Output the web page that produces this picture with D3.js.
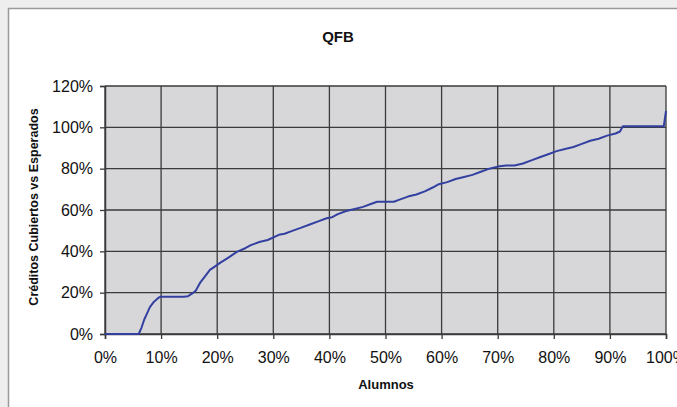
<!DOCTYPE html>
<html>
<head>
<meta charset="utf-8">
<script src="https://cdn.jsdelivr.net/npm/d3@7"></script>
<style>
  html, body { margin: 0; padding: 0; background: #eeeeee; }
  svg { display: block; }
  text { font-family: Arial, "Liberation Sans", sans-serif; fill: #111; }
</style>
</head>
<body>
<svg id="chart" width="677" height="407"></svg>
<script>
// ---- data ----
const title = "QFB";
const xTitle = "Alumnos";
const yTitle = "Créditos Cubiertos vs Esperados";
const xTicks = [0, 0.1, 0.2, 0.3, 0.4, 0.5, 0.6, 0.7, 0.8, 0.9, 1.0];
const yTicks = [0, 0.2, 0.4, 0.6, 0.8, 1.0, 1.2];
// fraction of students (x) vs fraction of expected credits covered (y)
const studentPct = [0, 6.0, 6.5, 7.0, 7.5, 8.0, 8.7, 9.3, 9.8, 12, 14, 14.8, 15.5, 16.2, 17.0, 18.0, 18.7, 19.5, 20.5, 22.0, 23.5, 25.0, 26.0, 27.5, 29.0, 31.0, 32.0, 33.5, 35.0, 36.5, 38.0, 39.5, 40.5, 41.5, 43.0, 44.5, 46.0, 47.5, 48.5, 50.0, 51.5, 52.5, 54.0, 55.5, 57.0, 58.5, 59.5, 61.0, 62.5, 64.0, 65.5, 67.0, 68.5, 70.0, 71.5, 73.0, 74.5, 76.0, 77.5, 79.0, 80.5, 82.0, 83.5, 85.0, 86.5, 88.0, 89.5, 91.0, 91.8, 92.3, 93.0, 99.6, 100];
const creditPct  = [0, 0,   3,   7,   10,  13,  15.5, 17,  18,   18, 18, 18.3, 19.5, 21,   25,   28.5, 31,   32.5, 34.4, 37,   39.7, 41.5, 43,   44.5, 45.5, 48,   48.5, 50,   51.5, 53,   54.5, 56,   56.5, 58,   59.5, 60.5, 61.5, 63,   64,   64,   64,   65,   66.5, 67.5, 69,   71,   72.5, 73.5, 75,   76,   77,   78.5, 80,   81,   81.5, 81.5, 82.5, 84,   85.5, 87,   88.5, 89.5, 90.5, 92,   93.5, 94.5, 96,   97,   98,   100.5, 100.5, 100.5, 108];

// ---- layout ----
const svg = d3.select("#chart");
const W = 677, H = 407;
const m = { left: 105, right: 666, top: 86, bottom: 334 };

// outer frame
svg.append("rect").attr("x", 8.5).attr("y", 8.5).attr("width", 700).attr("height", 440)
  .attr("fill", "#ffffff").attr("stroke", "#9a9a9a").attr("stroke-width", 1.5);

const x = d3.scaleLinear().domain([0, 1]).range([m.left, m.right]);
const y = d3.scaleLinear().domain([0, 1.2]).range([m.bottom, m.top]);

// plot area
svg.append("rect").attr("x", x(0)).attr("y", y(1.2))
  .attr("width", x(1) - x(0)).attr("height", y(0) - y(1.2))
  .attr("fill", "#d7d7da");

// gridlines
const grid = svg.append("g").attr("stroke", "#3a3a3a").attr("stroke-width", 1.3);
grid.selectAll("line.h").data(yTicks).join("line").attr("class", "h")
  .attr("x1", x(0)).attr("x2", x(1)).attr("y1", d => y(d)).attr("y2", d => y(d));
grid.selectAll("line.v").data(xTicks).join("line").attr("class", "v")
  .attr("y1", y(0)).attr("y2", y(1.2)).attr("x1", d => x(d)).attr("x2", d => x(d));

// axes
const fmt = d3.format(".0%");
const yAxis = svg.append("g").attr("transform", `translate(${x(0)},0)`)
  .call(d3.axisLeft(y).tickValues(yTicks).tickFormat(fmt).tickSize(5).tickPadding(7));
const xAxis = svg.append("g").attr("transform", `translate(0,${y(0)})`)
  .call(d3.axisBottom(x).tickValues(xTicks).tickFormat(fmt).tickSize(5).tickPadding(13));
[xAxis, yAxis].forEach(g => {
  g.select(".domain").attr("stroke", "#3a3a3a").attr("stroke-width", 1.5);
  g.selectAll(".tick line").attr("stroke", "#3a3a3a").attr("stroke-width", 1.3);
  g.selectAll(".tick text").attr("font-size", 16).attr("font-family", "Arial, 'Liberation Sans', sans-serif").attr("fill", "#111");
});

// data line
const pts = studentPct.map((s, i) => [s / 100, creditPct[i] / 100]);
svg.append("path").datum(pts)
  .attr("fill", "none").attr("stroke", "#3340a0").attr("stroke-width", 2)
  .attr("stroke-linejoin", "round")
  .attr("d", d3.line().x(d => x(d[0])).y(d => y(d[1])));

// titles
svg.append("text").attr("x", 338).attr("y", 42).attr("text-anchor", "middle")
  .attr("font-size", 15).attr("font-weight", "bold").text(title);
svg.append("text").attr("x", 386).attr("y", 389).attr("text-anchor", "middle")
  .attr("font-size", 13).attr("font-weight", "bold").text(xTitle);
svg.append("text").attr("transform", "translate(38,207) rotate(-90)").attr("text-anchor", "middle")
  .attr("font-size", 12.5).attr("font-weight", "bold").text(yTitle);
</script>
</body>
</html>
